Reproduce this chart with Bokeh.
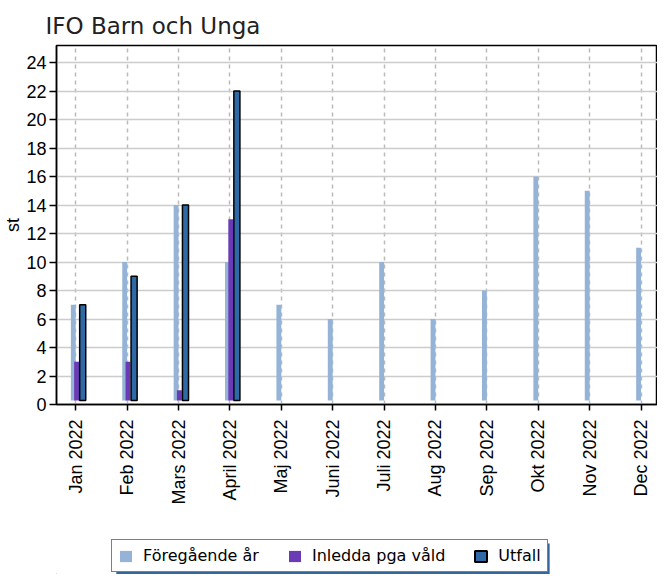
import math
from bokeh.plotting import figure
from bokeh.layouts import column
from bokeh.models import Legend, LegendItem, FixedTicker, Range1d, BoxAnnotation
from bokeh.embed import file_html
from bokeh.resources import INLINE

months = ["Jan 2022", "Feb 2022", "Mars 2022", "April 2022", "Maj 2022", "Juni 2022",
          "Juli 2022", "Aug 2022", "Sep 2022", "Okt 2022", "Nov 2022", "Dec 2022"]
foregaende = [7, 10, 14, 10, 7, 6, 10, 6, 8, 16, 15, 11]
inledda = [3, 3, 1, 13]
utfall = [7, 9, 14, 22]
y_ticks = list(range(0, 25, 2))
series_names = ["Föregående år", "Inledda pga våld", "Utfall"]

LIGHT = "#95b3d7"
PURPLE = "#6a3bb5"
DARK = "#2f6aa6"
SHADOW = "#35679c"

p = figure(width=657, height=508, output_backend="svg", toolbar_location=None,
           x_range=Range1d(-0.375, 11.32), y_range=Range1d(0, 25.2),
           min_border_left=44, min_border_right=0, min_border_top=45, min_border_bottom=104)

idx = list(range(len(months)))
base = 0.28
p.vbar(x=[i - 0.048 for i in idx], top=foregaende, bottom=base, width=0.095,
       fill_color=LIGHT, line_color=None)
idx2 = list(range(len(inledda)))
p.vbar(x=[i + 0.016 for i in idx2], top=inledda, bottom=base, width=0.095,
       fill_color=PURPLE, line_color=None)
idx3 = list(range(len(utfall)))
p.vbar(x=[i + 0.135 for i in idx3], top=utfall, bottom=base, width=0.118,
       fill_color=DARK, line_color="black", line_width=1.5)

p.title.text = "IFO Barn och Unga"
p.title.text_font = "DejaVu Sans"
p.title.text_font_size = "23px"
p.title.text_font_style = "normal"
p.title.offset = -11
p.title.standoff = 10
p.title.vertical_align = "top"
p.title.text_color = "#222222"

p.outline_line_color = "black"
p.outline_line_width = 1.5

p.xaxis.ticker = FixedTicker(ticks=idx)
p.xaxis.major_label_overrides = {i: m for i, m in enumerate(months)}
p.xaxis.major_label_orientation = math.pi / 2
p.xaxis.minor_tick_line_color = None
p.xaxis.major_tick_out = 6
p.xaxis.major_tick_in = 0
p.xaxis.major_label_standoff = 9

p.yaxis.ticker = FixedTicker(ticks=y_ticks)
p.yaxis.minor_tick_line_color = None
p.yaxis.major_tick_out = 7
p.yaxis.major_tick_in = 0
p.yaxis.major_label_standoff = 3
p.yaxis.axis_label = "st"
p.yaxis.axis_label_standoff = 0
p.yaxis.axis_label_text_font_style = "normal"

for ax in (p.xaxis, p.yaxis):
    ax.axis_line_color = "black"
    ax.axis_line_width = 1.5
    ax.major_tick_line_color = "black"
    ax.major_tick_line_width = 1.5
    ax.major_label_text_font = "Liberation Sans"
    ax.major_label_text_font_size = "18px"
    ax.major_label_text_color = "black"
    ax.axis_label_text_font = "Liberation Sans"
    ax.axis_label_text_font_size = "18px"
    ax.axis_label_text_color = "black"

p.ygrid.grid_line_color = "#cccccc"
p.ygrid.grid_line_width = 1.5
p.xgrid.grid_line_color = "#bbbbbb"
p.xgrid.grid_line_dash = "4 4"
p.xgrid.grid_line_width = 1.5

# legend figure (frame is aligned with the main plot's frame; 1 data unit = 1 px)
p2 = figure(width=657, height=66, output_backend="svg", toolbar_location=None,
            x_range=Range1d(0, 613), y_range=Range1d(0, 66),
            x_axis_type=None, y_axis_type=None, min_border=0)
p2.outline_line_color = None
p2.grid.visible = False
off = [-50]
zero = [0]
l1 = p2.vbar(x=off, top=zero, width=1, fill_color=LIGHT, line_color=None)
l2 = p2.vbar(x=off, top=zero, width=1, fill_color=PURPLE, line_color=None)
l3 = p2.vbar(x=off, top=zero, width=1, fill_color=DARK, line_color="black", line_width=2)

p2.add_layout(BoxAnnotation(left=61, right=503, bottom=0, top=31,
                            fill_color=SHADOW, fill_alpha=1, line_color=None,
                            level="underlay"))

legend = Legend(items=[LegendItem(label=n, renderers=[r]) for n, r in zip(series_names, [l1, l2, l3])],
                orientation="horizontal", location=(55, 2))
legend.label_text_font = "DejaVu Sans"
legend.label_text_font_size = "16px"
legend.label_text_color = "black"
legend.glyph_width = 15
legend.glyph_height = 14
legend.label_standoff = 10
legend.spacing = 28
legend.padding = 6
legend.margin = 0
legend.background_fill_alpha = 1
legend.border_line_color = "black"
legend.border_line_width = 1.5
p2.add_layout(legend, "center")

open("out.html", "w").write(file_html(column(p, p2, spacing=0), INLINE))
